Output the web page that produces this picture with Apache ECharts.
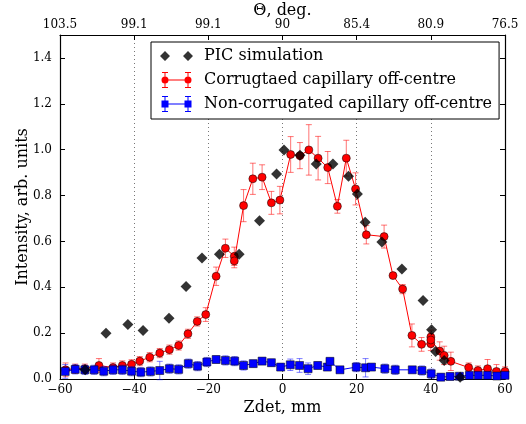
<!DOCTYPE html>
<html>
<head>
<meta charset="utf-8">
<script src="https://cdn.jsdelivr.net/npm/echarts@6/dist/echarts.min.js"></script>
<style>
  html, body { margin: 0; padding: 0; background: #fff; }
  #chart { width: 526px; height: 424px; }
</style>
</head>
<body>
<div id="chart"></div>
<script>
// PIC simulation (black diamonds)
const picX = [-53.2, -47.6, -41.7, -37.6, -30.6, -26.0, -21.7, -17.0, -11.7, -6.2, -1.6, 0.4, 4.7, 9.1, 13.6, 17.8, 20.2, 22.3, 26.8, 32.2, 37.9, 40.2, 41.3, 43.6, 47.9]
const picY = [0.04, 0.20, 0.238, 0.212, 0.265, 0.403, 0.528, 0.544, 0.544, 0.69, 0.894, 0.999, 0.976, 0.938, 0.938, 0.884, 0.807, 0.684, 0.597, 0.48, 0.342, 0.215, 0.12, 0.081, 0.008]

// corrugated capillary off-centre (red)
const corrX = [-58.5, -55.9, -53.3, -49.5, -45.7, -43.2, -40.7, -38.5, -35.8, -33.1, -30.5, -28.0, -25.5, -23.0, -20.7, -17.9, -15.4, -13.0, -13.0, -10.5, -8.0, -5.5, -3.0, -0.7, 2.2, 4.7, 7.1, 9.6, 12.2, 14.8, 17.2, 19.7, 22.6, 27.4, 29.8, 32.4, 34.9, 37.5, 40.0, 40.0, 40.0, 42.4, 43.6, 45.4, 50.2, 52.7, 55.3, 57.7, 60.0]
const corrY = [0.04, 0.045, 0.045, 0.059, 0.05, 0.059, 0.064, 0.078, 0.095, 0.113, 0.128, 0.146, 0.197, 0.251, 0.281, 0.448, 0.57, 0.535, 0.515, 0.756, 0.873, 0.88, 0.768, 0.78, 0.979, 0.974, 0.999, 0.963, 0.922, 0.753, 0.963, 0.829, 0.629, 0.621, 0.451, 0.392, 0.19, 0.151, 0.154, 0.183, 0.17, 0.122, 0.103, 0.077, 0.05, 0.037, 0.045, 0.033, 0.033]
const corrErr = [0.03, 0.02, 0.02, 0.03, 0.02, 0.02, 0.02, 0.02, 0.02, 0.02, 0.02, 0.02, 0.02, 0.02, 0.03, 0.04, 0.04, 0.04, 0.03, 0.07, 0.068, 0.054, 0.05, 0.06, 0.078, 0.057, 0.11, 0.095, 0.07, 0.03, 0.078, 0.07, 0.04, 0.05, 0.01, 0.02, 0.05, 0.03, 0.03, 0.03, 0.03, 0.04, 0.04, 0.04, 0.02, 0.02, 0.04, 0.03, 0.02]

// non-corrugated capillary off-centre (blue)
const flatX = [-58.6, -55.9, -53.3, -50.8, -48.2, -45.7, -43.2, -40.7, -38.2, -35.6, -33.1, -30.5, -28.0, -25.4, -22.9, -20.4, -17.9, -15.4, -12.9, -10.5, -7.9, -5.5, -3.0, -0.5, 2.1, 4.6, 6.9, 9.5, 12.1, 12.8, 15.5, 19.9, 22.4, 24.0, 27.6, 30.4, 35.0, 37.6, 40.1, 42.7, 45.2, 47.7, 50.4, 52.8, 55.3, 57.8, 60.0]
const flatY = [0.033, 0.042, 0.04, 0.04, 0.034, 0.04, 0.04, 0.034, 0.03, 0.033, 0.037, 0.045, 0.042, 0.067, 0.056, 0.074, 0.085, 0.081, 0.078, 0.059, 0.067, 0.078, 0.071, 0.052, 0.062, 0.059, 0.045, 0.059, 0.052, 0.077, 0.04, 0.052, 0.049, 0.052, 0.045, 0.04, 0.04, 0.037, 0.023, 0.008, 0.011, 0.012, 0.016, 0.016, 0.016, 0.013, 0.016]
const flatErr = [0.03, 0.02, 0.02, 0.02, 0.02, 0.02, 0.02, 0.02, 0.02, 0.02, 0.04, 0.02, 0.02, 0.02, 0.02, 0.02, 0.015, 0.02, 0.02, 0.02, 0.015, 0.015, 0.015, 0.015, 0.025, 0.03, 0.025, 0.015, 0.015, 0.015, 0.01, 0.02, 0.04, 0.01, 0.02, 0.02, 0.01, 0.02, 0.02, 0.015, 0.015, 0.01, 0.01, 0.01, 0.01, 0.01, 0.01]

// top axis (angle) labels at the Zdet ticks
const zTicks = [-60, -40, -20, 0, 20, 40, 60]
const thetaLabels = ['103.5', '99.1', '99.1', '90', '85.4', '80.9', '76.5']

const names = ['PIC simulation', 'Corrugtaed capillary off-centre', 'Non-corrugated capillary off-centre']
const serif = 'DejaVu Serif'

const pairs = (xs, ys) => xs.map((x, i) => [x, ys[i]])
const bars = (xs, ys, es) => xs.map((x, i) => [x, ys[i] - es[i], ys[i] + es[i]])

const errorBars = (color) => (params, api) => {
  const x = api.value(0)
  const top = api.coord([x, api.value(2)])
  const bot = api.coord([x, api.value(1)])
  const c = 3
  const st = { stroke: color, lineWidth: 1 }
  return {
    type: 'group',
    children: [
      { type: 'line', shape: { x1: top[0], y1: top[1], x2: bot[0], y2: bot[1] }, style: st },
      { type: 'line', shape: { x1: top[0] - c, y1: top[1], x2: top[0] + c, y2: top[1] }, style: st },
      { type: 'line', shape: { x1: bot[0] - c, y1: bot[1], x2: bot[0] + c, y2: bot[1] }, style: st }
    ]
  }
}

// legend handles drawn like matplotlib (two markers per handle), blank room on the right
const corners = 'M0,0h0.01v0.01h-0.01Z M39,16h-0.01v-0.01h0.01Z '
const errs = 'M4.5,0h1v16h-1Z M27.5,0h1v16h-1Z M2,0h6v1h-6Z M2,15h6v1h-6Z M25,0h6v1h-6Z M25,15h6v1h-6Z M5,7.5h23v1h-23Z '
const iconPic = 'path://' + corners + 'M0,8L5,3L10,8L5,13Z M23,8L28,3L33,8L28,13Z'
const iconCorr = 'path://' + corners + errs + 'M1.5,8A3.5,3.5,0,1,1,8.5,8A3.5,3.5,0,1,1,1.5,8Z M24.5,8A3.5,3.5,0,1,1,31.5,8A3.5,3.5,0,1,1,24.5,8Z'
const iconFlat = 'path://' + corners + errs + 'M1.5,4.5h7v7h-7Z M24.5,4.5h7v7h-7Z'

const chart = echarts.init(document.getElementById('chart'))

const axisCommon = {
  type: 'value',
  nameMoveOverlap: false,
  axisLine: { show: true, onZero: false, lineStyle: { color: '#000', width: 1.2 } },
  axisTick: { show: true, inside: true, length: 5, lineStyle: { color: '#000' } },
  nameTextStyle: { fontFamily: serif, fontSize: 16, color: '#000' },
  axisLabel: { fontFamily: serif, fontSize: 12, color: '#000' }
}

chart.setOption({
  animation: false,
  textStyle: { fontFamily: serif },
  grid: { left: 60, right: 21, top: 35, bottom: 45, outerBoundsMode: 'none' },
  legend: {
    data: [
      { name: names[0], icon: iconPic, itemStyle: { color: '#000', borderWidth: 0 } },
      { name: names[1], icon: iconCorr, itemStyle: { color: '#ff0000', borderWidth: 0 } },
      { name: names[2], icon: iconFlat, itemStyle: { color: '#0000ff', borderWidth: 0 } }
    ],
    orient: 'vertical',
    left: 151,
    top: 42,
    itemWidth: 39,
    itemHeight: 16,
    itemGap: 8,
    symbolKeepAspect: false,
    padding: [6, 7, 7, 9],
    borderColor: '#000',
    borderWidth: 1,
    backgroundColor: '#fff',
    textStyle: { fontFamily: serif, fontSize: 16, color: '#000' }
  },
  xAxis: [
    {
      ...axisCommon,
      min: -60, max: 60, interval: 20,
      name: 'Zdet, mm', nameLocation: 'middle', nameGap: 21,
      axisLabel: { ...axisCommon.axisLabel, margin: 5, formatter: v => (v < 0 ? '\u2212' + (-v) : String(v)) },
      splitLine: { show: true, lineStyle: { color: '#777', type: [1, 3], width: 1 } }
    },
    {
      ...axisCommon,
      position: 'top',
      min: -60, max: 60, interval: 20,
      name: '\u0398, deg.', nameLocation: 'middle', nameGap: 16,
      axisLabel: { ...axisCommon.axisLabel, margin: 4, formatter: v => thetaLabels[zTicks.indexOf(v)] || '' },
      splitLine: { show: false }
    }
  ],
  yAxis: [
    {
      ...axisCommon,
      min: 0, max: 1.5, interval: 0.2,
      name: 'Intensity, arb. units', nameLocation: 'middle', nameGap: 29,
      axisLabel: { ...axisCommon.axisLabel, margin: 8, showMaxLabel: false, formatter: v => v.toFixed(1) },
      splitLine: { show: false }
    },
    {
      ...axisCommon,
      position: 'right',
      min: 0, max: 1.5, interval: 0.2,
      axisLabel: { show: false },
      splitLine: { show: false }
    }
  ],
  series: [
    {
      type: 'custom',
      name: 'corrErr',
      renderItem: errorBars('rgba(255,0,0,0.55)'),
      encode: { x: 0, y: [1, 2] },
      data: bars(corrX, corrY, corrErr),
      z: 2
    },
    {
      type: 'line',
      name: names[1],
      data: pairs(corrX, corrY),
      symbol: 'circle',
      symbolSize: 8,
      lineStyle: { color: '#ff0000', width: 1 },
      itemStyle: { color: '#ff0000', borderColor: '#000', borderWidth: 0.5 },
      z: 3
    },
    {
      type: 'custom',
      name: 'flatErr',
      renderItem: errorBars('rgba(0,0,255,0.5)'),
      encode: { x: 0, y: [1, 2] },
      data: bars(flatX, flatY, flatErr),
      z: 4
    },
    {
      type: 'line',
      name: names[2],
      data: pairs(flatX, flatY),
      symbol: 'rect',
      symbolSize: 8,
      lineStyle: { color: '#0000ff', width: 1 },
      itemStyle: { color: '#0000ff', borderColor: '#000', borderWidth: 0.5 },
      z: 5
    },
    {
      type: 'scatter',
      name: names[0],
      data: pairs(picX, picY),
      symbol: 'diamond',
      symbolSize: 11,
      itemStyle: { color: '#000' },
      z: 6
    }
  ]
})
</script>
</body>
</html>
